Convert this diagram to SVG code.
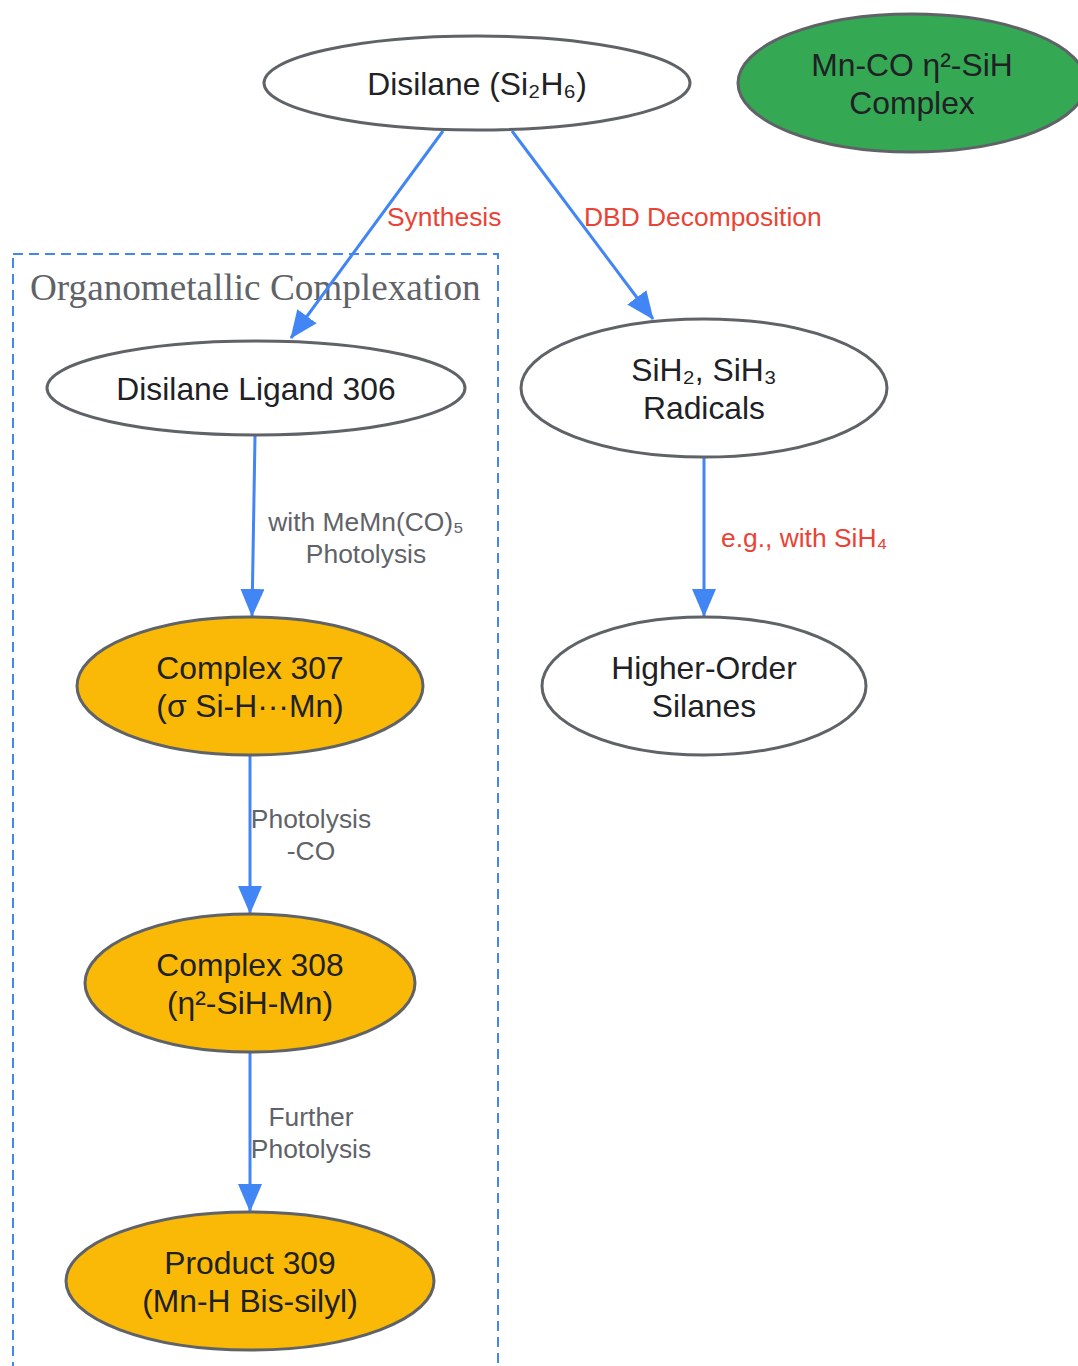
<svg xmlns="http://www.w3.org/2000/svg" width="1078" height="1366" viewBox="0 0 1078 1366">
<defs>
<marker id="ah" markerWidth="28" markerHeight="24" refX="27" refY="12" orient="auto" markerUnits="userSpaceOnUse">
<path d="M0,0 L28,12 L0,24 Z" fill="#4285f4"/>
</marker>
<style>
.node ellipse{stroke:#5f6368;stroke-width:3}
.w{fill:#ffffff}
.y{fill:#f9b906}
.g{fill:#34a853}
.nt{font-family:"Liberation Sans",Arial,sans-serif;font-size:31.8px;fill:#202124;text-anchor:middle}
.edge{stroke:#4285f4;stroke-width:3;fill:none;marker-end:url(#ah)}
.lr{font-family:"Liberation Sans",Arial,sans-serif;font-size:26.4px;fill:#ea4335}
.lg{font-family:"Liberation Sans",Arial,sans-serif;font-size:26.4px;fill:#5f6368;text-anchor:middle}
</style>
</defs>
<rect width="1078" height="1366" fill="#ffffff"/>
<g id="cluster">
<rect x="13" y="254" width="485" height="1130" fill="none" stroke="#4285f4" stroke-width="2" stroke-dasharray="10,6"/>
<text x="30" y="300" font-family="Liberation Serif,'Times New Roman',serif" font-size="37.2" fill="#5f6368">Organometallic Complexation</text>
</g>
<g id="connectors">
<line class="edge" x1="443" y1="131" x2="291" y2="338"/>
<line class="edge" x1="512" y1="131" x2="653" y2="319"/>
<line class="edge" x1="255" y1="436" x2="252" y2="616"/>
<line class="edge" x1="704" y1="457" x2="704" y2="616"/>
<line class="edge" x1="250" y1="755" x2="250" y2="913"/>
<line class="edge" x1="250" y1="1052" x2="250" y2="1211"/>
<text class="lr" x="387" y="226">Synthesis</text>
<text class="lr" x="584" y="226">DBD Decomposition</text>
<text class="lg" x="366" y="531">with MeMn(CO)₅</text>
<text class="lg" x="366" y="563">Photolysis</text>
<text class="lr" x="721" y="547">e.g., with SiH₄</text>
<text class="lg" x="311" y="828">Photolysis</text>
<text class="lg" x="311" y="860">-CO</text>
<text class="lg" x="311" y="1126">Further</text>
<text class="lg" x="311" y="1158">Photolysis</text>
</g>
<g id="disilane" class="node">
<ellipse class="w" cx="477" cy="83" rx="213" ry="47"/>
<text class="nt" x="477" y="95">Disilane (Si₂H₆)</text>
</g>
<g id="mnco" class="node">
<ellipse class="g" cx="912" cy="83" rx="174" ry="69"/>
<text class="nt" x="912" y="76">Mn-CO η²-SiH</text>
<text class="nt" x="912" y="114">Complex</text>
</g>
<g id="ligand306" class="node">
<ellipse class="w" cx="256" cy="388" rx="209" ry="47"/>
<text class="nt" x="256" y="400">Disilane Ligand 306</text>
</g>
<g id="radicals" class="node">
<ellipse class="w" cx="704" cy="388" rx="183" ry="69"/>
<text class="nt" x="704" y="381">SiH₂, SiH₃</text>
<text class="nt" x="704" y="419">Radicals</text>
</g>
<g id="complex307" class="node">
<ellipse class="y" cx="250" cy="686" rx="173" ry="69"/>
<text class="nt" x="250" y="679">Complex 307</text>
<text class="nt" x="250" y="717">(σ Si-H···Mn)</text>
</g>
<g id="silanes" class="node">
<ellipse class="w" cx="704" cy="686" rx="162" ry="69"/>
<text class="nt" x="704" y="679">Higher-Order</text>
<text class="nt" x="704" y="717">Silanes</text>
</g>
<g id="complex308" class="node">
<ellipse class="y" cx="250" cy="983" rx="165" ry="69"/>
<text class="nt" x="250" y="976">Complex 308</text>
<text class="nt" x="250" y="1014">(η²-SiH-Mn)</text>
</g>
<g id="product309" class="node">
<ellipse class="y" cx="250" cy="1281" rx="184" ry="69"/>
<text class="nt" x="250" y="1274">Product 309</text>
<text class="nt" x="250" y="1312">(Mn-H Bis-silyl)</text>
</g>
</svg>
